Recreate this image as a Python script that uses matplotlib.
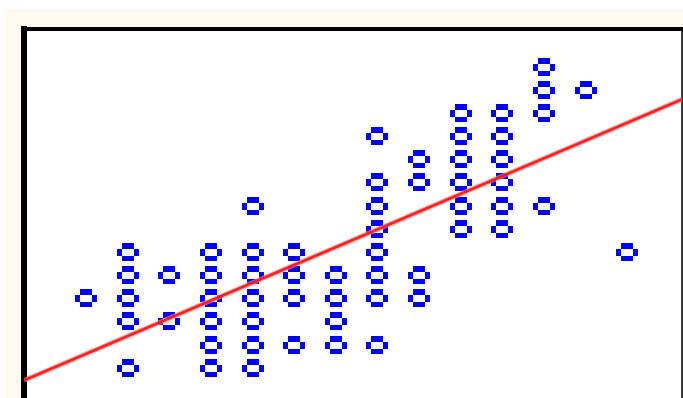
import matplotlib
matplotlib.use("Agg")
import matplotlib.pyplot as plt
import numpy as np
from matplotlib.path import Path
from matplotlib.patches import Rectangle

# Observations (x, y) for the scatter
x_vals = [1,
          2, 2, 2, 2, 2,
          3, 3,
          4, 4, 4, 4, 4, 4,
          5, 5, 5, 5, 5, 5, 5,
          6, 6, 6, 6,
          7, 7, 7, 7,
          8, 8, 8, 8, 8, 8, 8, 8,
          9, 9, 9, 9,
          10, 10, 10, 10, 10, 10,
          11, 11, 11, 11, 11, 11,
          12, 12, 12, 12,
          13,
          14]
y_vals = [4,
          6, 5, 4, 3, 1,
          5, 3,
          6, 5, 4, 3, 2, 1,
          8, 6, 5, 4, 3, 2, 1,
          6, 5, 4, 2,
          5, 4, 3, 2,
          11, 9, 8, 7, 6, 5, 4, 2,
          10, 9, 5, 4,
          12, 11, 10, 9, 8, 7,
          12, 11, 10, 9, 8, 7,
          14, 13, 12, 8,
          13,
          6]

# Trend line
fit_intercept = 0.83
fit_slope = 0.768

W, H = 683, 398
fig = plt.figure(figsize=(W / 100, H / 100), dpi=100, facecolor="white")
fig.patches.append(Rectangle((5 / W, 0), 1 - 5 / W, (H - 9) / H,
                             transform=fig.transFigure, facecolor="#fff9ee",
                             edgecolor="none", zorder=-10))

ax = fig.add_axes([24 / W, 1 - 410 / H, (682.3 - 24) / W, (410 - 29) / H])
ax.set_zorder(1)
ax.set_facecolor("white")
ax.set_xlim(-0.489, 15.32)
ax.set_ylim(-0.827, 15.63)
ax.set_xticks([])
ax.set_yticks([])
ax.spines["left"].set_linewidth(4.32)
ax.spines["top"].set_linewidth(2.88)
ax.spines["right"].set_linewidth(1.1)
ax.spines["bottom"].set_visible(False)
for s in ("left", "top", "right"):
    ax.spines[s].set_color("black")


def _rect(x0, y0, x1, y1):
    return [(x0, y0), (x1, y0), (x1, y1), (x0, y1), (x0, y0)]


# Blocky ring marker built from four bars
verts = (_rect(-5.67, 3.5, 5.67, 8.83) + _rect(-5.67, -8.83, 5.67, -3.5)
         + _rect(-11, -3.5, -5.67, 3.5) + _rect(5.67, -3.5, 11, 3.5))
codes = [Path.MOVETO, Path.LINETO, Path.LINETO, Path.LINETO, Path.CLOSEPOLY] * 4
ring = Path(verts, codes)

ax.plot(x_vals, y_vals, linestyle="none", marker=ring, markersize=22 * 0.72,
        markerfacecolor="#0000ff", markeredgewidth=0, antialiased=False,
        zorder=2)

xs = np.array(ax.get_xlim())
ys = fit_intercept + fit_slope * xs
# soft halo under a solid core
ax.plot(xs, ys, color="#ff8080", lw=3.4, alpha=0.7, solid_capstyle="butt",
        zorder=3)
ax.plot(xs, ys, color="#ff1010", lw=1.9, alpha=0.9, solid_capstyle="butt",
        zorder=3)

fig.savefig("out.png", dpi=100, facecolor=fig.get_facecolor())
